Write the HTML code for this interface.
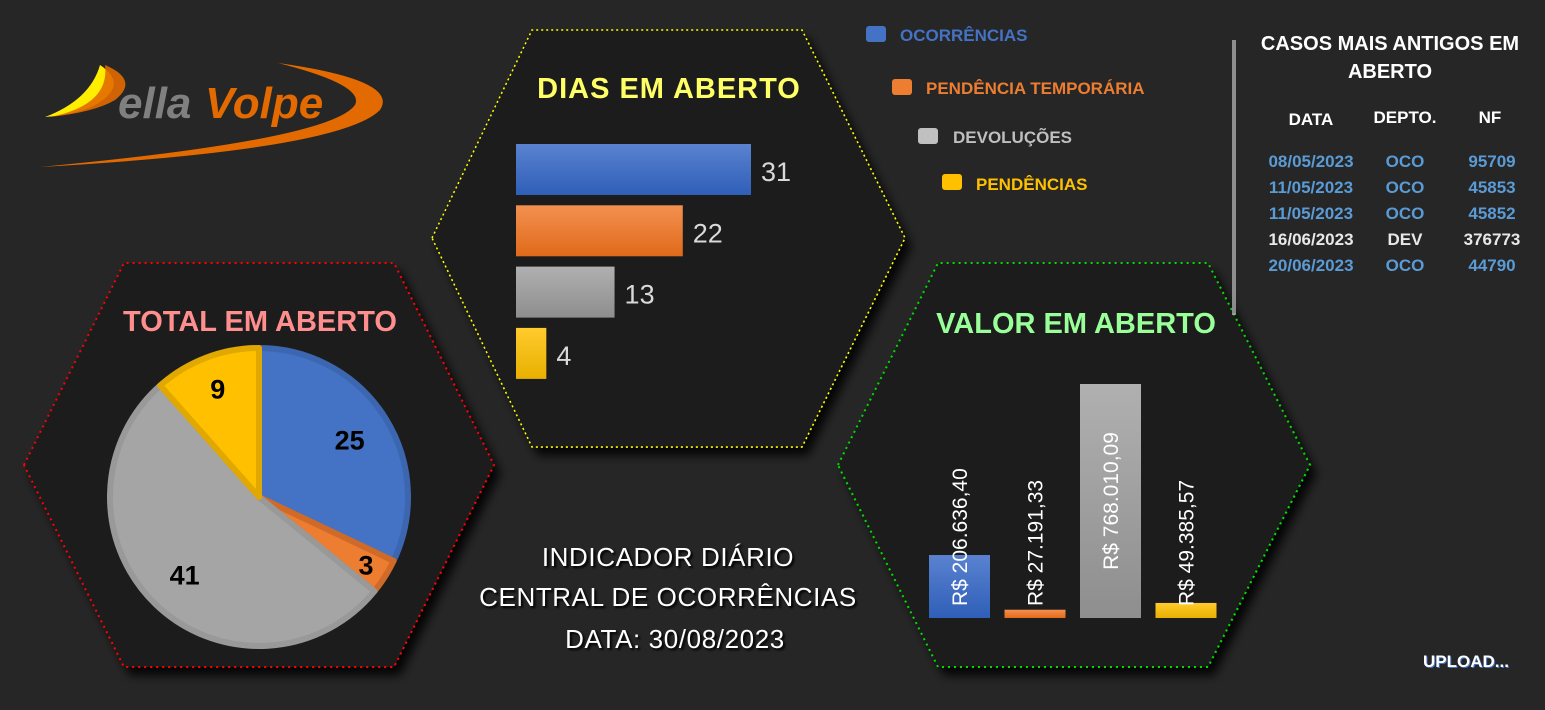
<!DOCTYPE html>
<html><head><meta charset="utf-8"><style>
body{margin:0;background:#262626;width:1545px;height:710px;overflow:hidden;font-family:"Liberation Sans",sans-serif}
svg{display:block}
</style></head><body>
<svg width="1545" height="710" xmlns="http://www.w3.org/2000/svg" font-family="Liberation Sans, sans-serif">
<defs>
<linearGradient id="gB" x1="0" y1="0" x2="0" y2="1"><stop offset="0" stop-color="#5a82d0"/><stop offset="1" stop-color="#2f5fb8"/></linearGradient>
<linearGradient id="gO" x1="0" y1="0" x2="0" y2="1"><stop offset="0" stop-color="#f39050"/><stop offset="1" stop-color="#e06a1a"/></linearGradient>
<linearGradient id="gG" x1="0" y1="0" x2="0" y2="1"><stop offset="0" stop-color="#b0b0b0"/><stop offset="1" stop-color="#8e8e8e"/></linearGradient>
<linearGradient id="gY" x1="0" y1="0" x2="0" y2="1"><stop offset="0" stop-color="#ffcb2e"/><stop offset="1" stop-color="#e8b000"/></linearGradient>
<filter id="sh"><feDropShadow dx="6" dy="8" stdDeviation="5" flood-color="#000" flood-opacity="0.9"/></filter>
</defs>
<g>
<path d="M100,65 Q130,85 95,105 Q75,115 45,117 Q90,100 100,65Z" fill="#ffee00"/>
<path d="M105,65 Q140,80 115,100 Q95,112 50,117 Q110,105 105,65Z" fill="#e36a00" opacity="0.9"/>
<path d="M278,63 Q400,80 380,110 Q340,150 40,167 Q330,140 355,105 Q365,85 278,63Z" fill="#e36a00"/>
<text x="118" y="118" font-size="44" font-weight="bold" font-style="italic" fill="#808080">ella</text>
<text x="205" y="118" font-size="44" font-weight="bold" font-style="italic" fill="#e36a00">Volpe</text>
</g>
<polygon points="432,238 532,30 802,30 905,238 802,447 532,447" fill="#1c1c1c" stroke="#ffff00" stroke-width="1.5" stroke-dasharray="2,3" filter="url(#sh)"/>
<polygon points="24,465 124,263 394,263 494,465 394,667 124,667" fill="#1c1c1c" stroke="#ff0000" stroke-width="2" stroke-dasharray="2,4" filter="url(#sh)"/>
<polygon points="838,465 938,263 1208,263 1310,465 1208,667 938,667" fill="#1c1c1c" stroke="#00dd00" stroke-width="2" stroke-dasharray="2,4" filter="url(#sh)"/>
<text x="669" y="98" text-anchor="middle" font-size="29" font-weight="bold" fill="#ffff66" letter-spacing="1">DIAS EM ABERTO</text>
<text x="260" y="331" text-anchor="middle" font-size="29" font-weight="bold" fill="#ff8e8e">TOTAL EM ABERTO</text>
<text x="1076" y="333" text-anchor="middle" font-size="29" font-weight="bold" fill="#99ff99">VALOR EM ABERTO</text>
<g id="dias"></g>
<g id="pie"></g>
<g id="valor"></g>
<g font-size="17" font-weight="bold">
<rect x="866" y="26" width="20" height="16" rx="3" fill="#4472c4"/><text x="900" y="41" fill="#4472c4">OCORRÊNCIAS</text>
<rect x="892" y="79" width="20" height="16" rx="3" fill="#ed7d31"/><text x="926" y="94" fill="#ed7d31">PENDÊNCIA TEMPORÁRIA</text>
<rect x="918" y="128" width="20" height="16" rx="3" fill="#c0c0c0"/><text x="953" y="143" fill="#bfbfbf">DEVOLUÇÕES</text>
<rect x="942" y="174" width="20" height="16" rx="3" fill="#ffc000"/><text x="976" y="190" fill="#ffc000">PENDÊNCIAS</text>
</g>
<rect x="1232" y="40" width="4" height="275" fill="#bbb" opacity="0.7"/>
<g font-weight="bold" text-anchor="middle">
<text x="1390" y="50" font-size="20" fill="#fff">CASOS MAIS ANTIGOS EM</text>
<text x="1390" y="78" font-size="20" fill="#fff">ABERTO</text>
<text x="1311" y="125" font-size="17" fill="#fff">DATA</text><text x="1405" y="123" font-size="17" fill="#fff">DEPTO.</text><text x="1490" y="123" font-size="17" fill="#fff">NF</text>
<g font-size="17" fill="#5b9bd5">
<text x="1311" y="167">08/05/2023</text><text x="1405" y="167">OCO</text><text x="1492" y="167">95709</text>
<text x="1311" y="193">11/05/2023</text><text x="1405" y="193">OCO</text><text x="1492" y="193">45853</text>
<text x="1311" y="219">11/05/2023</text><text x="1405" y="219">OCO</text><text x="1492" y="219">45852</text>
<text x="1311" y="245" fill="#e8e8e8">16/06/2023</text><text x="1405" y="245" fill="#e8e8e8">DEV</text><text x="1492" y="245" fill="#e8e8e8">376773</text>
<text x="1311" y="271">20/06/2023</text><text x="1405" y="271">OCO</text><text x="1492" y="271">44790</text>
</g></g>
<g font-size="26" fill="#fff" text-anchor="middle" letter-spacing="0.6" style="filter:drop-shadow(2px 2px 1px #000)">
<text x="668" y="566">INDICADOR DIÁRIO</text>
<text x="668" y="606">CENTRAL DE OCORRÊNCIAS</text>
<text x="675" y="648">DATA: 30/08/2023</text>
</g>
<text x="1466" y="667" text-anchor="middle" font-size="17" font-weight="bold" fill="#fff" style="filter:drop-shadow(1px 1px 0 #4472c4)">UPLOAD...</text>
</svg>
<script>
const categories=["OCORRÊNCIAS","PENDÊNCIA TEMPORÁRIA","DEVOLUÇÕES","PENDÊNCIAS"];
const diasValues=[31,22,13,4];
const totalValues=[25,3,41,9];
const valorValues=[206636.40,27191.33,768010.09,49385.57];
const valorLabels=["R$ 206.636,40","R$ 27.191,33","R$ 768.010,09","R$ 49.385,57"];
const fills=["url(#gB)","url(#gO)","url(#gG)","url(#gY)"];
const solid=["#4472c4","#ed7d31","#a5a5a5","#ffc000"];
const NS="http://www.w3.org/2000/svg";
function mk(t,a,p){const e=document.createElementNS(NS,t);for(const k in a)e.setAttribute(k,a[k]);p.appendChild(e);return e;}
const dx=v=>516+v*(235/31);
const dias=document.getElementById('dias');
diasValues.forEach((v,i)=>{
 const y=144+i*61.3;
 const r=mk('rect',{x:516,y:y,width:dx(v)-516,height:51,fill:fills[i]},dias);
 
 
 const t=mk('text',{x:dx(v)+10,y:y+37,'font-size':27,fill:'#d9d9d9'},dias);t.textContent=v;
 
 
});
const pie=document.getElementById('pie');
const cx=259,cy=497,R=149;const tot=totalValues.reduce((a,b)=>a+b,0);
let a0=0;
totalValues.forEach((v,i)=>{
 const a1=a0+v/tot*2*Math.PI;
 const p=(a)=>[cx+R*Math.sin(a),cy-R*Math.cos(a)];
 const [x0,y0]=p(a0),[x1,y1]=p(a1);
 const s=mk('path',{d:`M${cx},${cy}L${x0},${y0}A${R},${R} 0 ${a1-a0>Math.PI?1:0} 1 ${x1},${y1}Z`,fill:solid[i],stroke:['#3d66b0','#d06a28','#999','#e0a800'][i],'stroke-width':6,'stroke-linejoin':'round'},pie);
 
 
 const m=(a0+a1)/2,lr=[0.72,0.85,0.72,0.78][i];
 const t=mk('text',{x:cx+R*lr*Math.sin(m),y:cy-R*lr*Math.cos(m)+10,'text-anchor':'middle','font-size':27,'font-weight':'bold',fill:'#000'},pie);t.textContent=v;
 
 
 a0=a1;
});
const valor=document.getElementById('valor');
const base=618,vy=v=>base-v*(234/768010.09);
valorValues.forEach((v,i)=>{
 const x=929+i*75.5;
 const r=mk('rect',{x:x,y:vy(v),width:61,height:base-vy(v),fill:fills[i]},valor);
 
 
 const big=base-vy(v)>200;
 const ly=big?(vy(v)+base)/2:606;
 const t=mk('text',{x:0,y:0,'font-size':21,fill:'#fff','text-anchor':big?'middle':'start',transform:`translate(${x+38},${ly}) rotate(-90)`},valor);
 t.textContent=valorLabels[i];
 
 
});
</script>
</body></html>
